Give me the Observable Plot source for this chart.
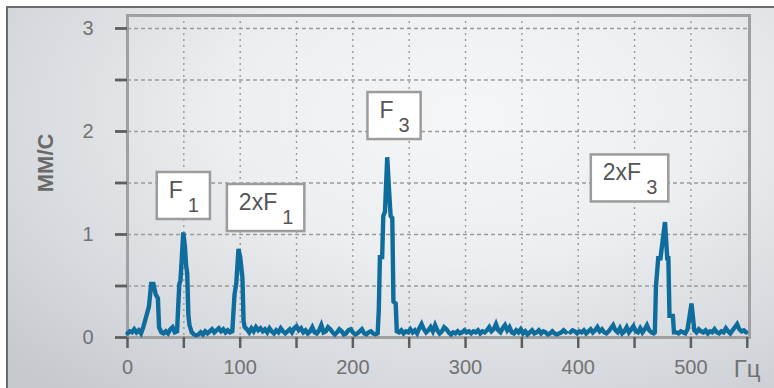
<!DOCTYPE html>
<html><head><meta charset="utf-8">
<script src="https://cdn.jsdelivr.net/npm/d3@7"></script>
<script src="https://cdn.jsdelivr.net/npm/@observablehq/plot@0.6"></script>
<style>
html,body{margin:0;padding:0;background:#fff;}
#wrap{position:relative;width:774px;height:388px;overflow:hidden;}
#panel{position:absolute;left:6px;top:6px;width:768px;height:382px;border-left:2px solid #6b6b6b;border-top:2px solid #6b6b6b;
background:radial-gradient(ellipse 80% 95% at 60% 28%, #f5f6f7 0%, #eceef0 40%, #d6d9dd 75%, #c6cace 100%);}
#chart{position:absolute;left:0;top:0;}
</style></head><body>
<div id="wrap"><div id="panel"></div><div id="chart"></div></div>
<script>
// Spectrum: frequency (Hz) and amplitude (mm/s)
const freq = [0,2,4,6,8,10,12,14,16,18,19,21,23,25,27,28,30,32,34,36,38,40,42,44,45,46,47,49.5,51,52,53,54,55,57,59,61,63,65,67,69,71,73,75,77,79,81,83,85,87,89,91,93,95,96.5,98.5,100,102,103,104,106,108,110,112,114,116,118,120,122,124,126,128,130,132,134,136,138,140,142,144,146,148,150,152,154,156,158,160,162,164,166,168,170,172,174,176,178,180,182,184,186,188,190,192,194,196,198,200,202,204,206,208,210,212,214,216,218,220,222,223,224,226,227,228.5,230.5,232,233.5,235,236,238,239,241,243,245,247,249,251,253,255,257,259,261,263,265,267,269,271,273,275,277,279,281,283,285,287,289,291,293,295,297,299,301,303,305,307,309,311,313,315,317,319,321,323,325,327,329,331,333,335,337,339,341,343,345,347,349,351,353,355,357,359,361,363,365,367,369,371,373,375,377,379,381,383,385,387,389,391,393,395,397,399,401,403,405,407,409,411,413,415,417,419,421,423,425,427,429,431,433,435,437,439,441,443,445,447,449,451,453,455,457,459,461,463,465,467,468,469,471,473,477,479,480,481,484,485,487,489,491,493,495,497,499,500.5,502,503,505,507,509,511,513,515,517,519,521,523,525,527,529,531,533,535,537,539,541,543,545,547,549];
const amp = [0.04,0.06,0.05,0.08,0.05,0.07,0.04,0.10,0.18,0.26,0.30,0.52,0.52,0.42,0.38,0.10,0.05,0.04,0.06,0.04,0.08,0.10,0.05,0.06,0.30,0.52,0.55,1.02,0.88,0.70,0.62,0.22,0.12,0.05,0.03,0.02,0.03,0.05,0.03,0.06,0.04,0.06,0.08,0.05,0.07,0.09,0.06,0.08,0.05,0.07,0.05,0.06,0.42,0.52,0.86,0.78,0.58,0.16,0.10,0.08,0.05,0.09,0.06,0.10,0.07,0.09,0.06,0.08,0.05,0.09,0.06,0.04,0.07,0.05,0.09,0.06,0.04,0.06,0.08,0.05,0.09,0.11,0.07,0.09,0.05,0.07,0.04,0.06,0.10,0.05,0.04,0.07,0.12,0.05,0.06,0.10,0.08,0.05,0.03,0.05,0.08,0.06,0.03,0.04,0.07,0.08,0.05,0.03,0.04,0.06,0.08,0.04,0.03,0.05,0.06,0.04,0.03,0.04,0.26,0.78,0.78,1.18,1.22,1.75,1.45,1.18,1.16,0.35,0.33,0.06,0.05,0.07,0.04,0.06,0.05,0.08,0.05,0.07,0.04,0.09,0.13,0.08,0.05,0.07,0.10,0.06,0.12,0.07,0.04,0.06,0.10,0.08,0.05,0.03,0.05,0.04,0.06,0.04,0.05,0.07,0.05,0.06,0.04,0.06,0.05,0.07,0.04,0.06,0.05,0.07,0.10,0.06,0.08,0.13,0.07,0.05,0.09,0.12,0.07,0.10,0.05,0.04,0.07,0.05,0.08,0.04,0.06,0.03,0.05,0.07,0.04,0.05,0.07,0.04,0.06,0.05,0.03,0.04,0.06,0.04,0.03,0.04,0.05,0.07,0.05,null,0.05,0.07,0.06,0.04,0.06,0.05,0.07,0.04,0.06,0.08,0.05,0.07,0.10,0.06,0.08,0.05,0.04,0.06,0.09,0.12,0.07,0.05,0.09,0.04,0.06,0.10,0.05,0.08,0.11,0.06,0.05,0.09,0.05,0.08,0.12,0.07,0.05,0.04,0.05,0.50,0.77,0.77,1.12,0.77,0.77,0.21,0.21,0.05,0.05,0.04,0.06,0.05,0.04,0.08,0.22,0.33,0.18,0.07,0.05,0.08,0.06,0.05,0.07,0.04,0.06,0.05,0.08,0.05,0.04,0.06,0.05,0.09,0.06,0.04,0.07,0.10,0.13,0.08,0.06,0.07,0.05];

// Axis ticks
const xTicks = [0,50,100,150,200,250,300,350,400,450,500,550];
const xTickLabels = ["0","","100","","200","","300","","400","","500","Гц"];
const yTicks = [0,0.5,1,1.5,2,2.5,3];
const yTickLabels = ["0","","1","","2","","3"];
const yLabel = "мм/с";
const xUnit = "Гц";

// Peak annotations
const annText = ["F","2xF","F","2xF"];
const annSub = ["1","1","3","3"];
const annHz = [50,123,237,446];
const annVal = [1.374,1.257,2.15,1.544];

const data = freq.map((f,i)=>({f, a: amp[i]}));

const plot = Plot.plot({
  width: 774, height: 388,
  marginLeft: 127, marginRight: 25, marginTop: 15, marginBottom: 51,
  style: {background: "transparent", fontFamily: "'Liberation Sans', Arial, sans-serif", fontSize: "20px"},
  x: {domain: [0,552]},
  y: {domain: [0,3.126]},
  marks: [
    Plot.gridY(yTicks.filter(d=>d>0), {stroke:"#9a9a9a", strokeOpacity:1, strokeWidth:1.4, strokeDasharray:"4,3"}),
    Plot.gridX(xTicks.filter(d=>d>0 && d<550), {stroke:"#9a9a9a", strokeOpacity:1, strokeWidth:1.4, strokeDasharray:"2,4"}),
    Plot.frame({stroke:"#a0a0a0", strokeWidth:3}),
    Plot.line(data, {x:"f", y:"a", stroke:"#0e6d9c", strokeWidth:4.4, strokeLinejoin:"miter", strokeMiterlimit:3}),
    Plot.axisX({ticks: xTicks, tickSize: 11, tickPadding: 11, strokeWidth: 2.5, stroke:"#5e5e5e", fill:"#727272",
      tickFormat: d => xTickLabels[xTicks.indexOf(d)], fontSize: 20, label: null}),
    Plot.axisY({ticks: yTicks, tickSize: 12, tickPadding: 22, strokeWidth: 2.8, stroke:"#5e5e5e", fill:"#727272",
      tickFormat: d => yTickLabels[yTicks.indexOf(d)], fontSize: 20, label: null}),
    Plot.text([{t: yLabel, v: 1.41}], {text:"t", y:"v", frameAnchor:"left", dx:-82, rotate:-90, fontSize:22, fontWeight:"bold", fill:"#6a6a6a"})
  ]
});
document.getElementById("chart").appendChild(plot);

const svg = d3.select(plot);
svg.selectAll("text").filter(function(){return this.textContent === yLabel;}).style("text-transform","uppercase");
svg.selectAll("text").filter(function(){return this.textContent === xUnit;}).style("font-size","24px");

const xs = plot.scale("x"), ys = plot.scale("y");
annText.forEach((txt,i) => {
  const g = svg.append("g");
  const rect = g.append("rect");
  const t = g.append("text").attr("font-family","'Liberation Sans', Arial, sans-serif").attr("font-size",23).attr("fill","#555");
  t.append("tspan").text(txt);
  t.append("tspan").attr("font-size",20).attr("dx",5).attr("dy",14).text(annSub[i]);
  const bb = t.node().getBBox();
  const rx = bb.x - 12, ry = bb.y - 5, rw = bb.width + 23, rh = bb.height + 8;
  rect.attr("x",rx).attr("y",ry).attr("width",rw).attr("height",rh)
      .attr("fill","#fff").attr("stroke","#9c9c9c").attr("stroke-width",2.5);
  const px = xs.apply(annHz[i]), py = ys.apply(annVal[i]);
  g.attr("transform", `translate(${px - (rx + rw/2)},${py - (ry + rh/2)})`);
});
</script>
</body></html>
